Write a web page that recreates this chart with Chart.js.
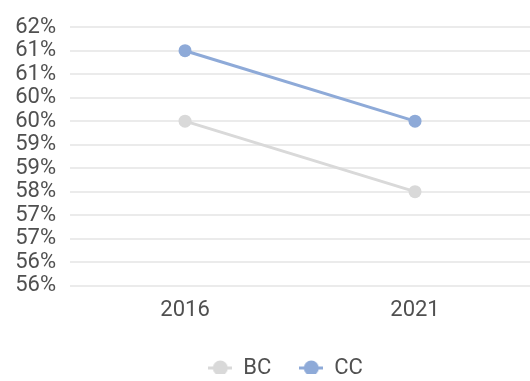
<!DOCTYPE html>
<html>
<head>
<meta charset="utf-8">
<script src="https://cdn.jsdelivr.net/npm/chart.js@4/dist/chart.umd.min.js"></script>
<style>
html,body{margin:0;padding:0;background:#fff;}
#wrap{width:530px;height:381px;position:relative;}
</style>
</head>
<body>
<div id="wrap"><canvas id="c" width="530" height="381"></canvas></div>
<script>
const categories = ['2016', '2021'];
const seriesNames = ['BC', 'CC'];
const bcValues = [59.65, 58.0];
const ccValues = [61.3, 59.65];
const yTickValues = [55.8, 56.35, 56.9, 57.45, 58.0, 58.55, 59.1, 59.65, 60.2, 60.75, 61.3, 61.85];

const seriesColors = ['#d9d9d9', '#8eaad8'];
const textColor = '#505050';
const fontFamily = 'Roboto, "Noto Sans", sans-serif';

function legendMarker(color) {
  const c = document.createElement('canvas');
  c.width = 24; c.height = 16;
  const g = c.getContext('2d');
  g.strokeStyle = color; g.lineWidth = 3;
  g.beginPath(); g.moveTo(0, 8); g.lineTo(24, 8); g.stroke();
  g.fillStyle = color;
  g.beginPath(); g.arc(12, 8, 7.5, 0, Math.PI * 2); g.fill();
  return c;
}

const legendFit = {
  id: 'legendFit',
  beforeInit(chart) {
    const orig = chart.legend.fit;
    chart.legend.fit = function () { orig.call(this); this.height = 45; };
  },
  afterLayout(chart) {
    chart.legend.left += 20;
    chart.legend.right += 20;
    chart.legend.top -= 7;
    chart.legend.bottom -= 7;
  }
};

new Chart(document.getElementById('c'), {
  type: 'line',
  data: {
    labels: categories,
    datasets: [
      { label: seriesNames[0], data: bcValues, borderColor: seriesColors[0], backgroundColor: seriesColors[0], borderWidth: 3, pointRadius: 6.5, pointHoverRadius: 6.5, pointBorderWidth: 0, tension: 0 },
      { label: seriesNames[1], data: ccValues, borderColor: seriesColors[1], backgroundColor: seriesColors[1], borderWidth: 3, pointRadius: 6.5, pointHoverRadius: 6.5, pointBorderWidth: 0, tension: 0 }
    ]
  },
  plugins: [legendFit],
  options: {
    responsive: false,
    animation: false,
    layout: { autoPadding: false, padding: { top: -11.5, right: 0, left: 1.2, bottom: 0 } },
    plugins: {
      legend: {
        position: 'bottom',
        labels: {
          usePointStyle: true,
          boxWidth: 24,
          boxHeight: 16,
          pointStyleWidth: 24,
          padding: 28,
          color: textColor,
          font: { family: fontFamily, size: 22 },
          generateLabels: (chart) => chart.data.datasets.map((ds, i) => ({
            text: ds.label,
            fillStyle: seriesColors[i],
            strokeStyle: seriesColors[i],
            lineWidth: 0,
            pointStyle: legendMarker(seriesColors[i]),
            hidden: false,
            datasetIndex: i,
            fontColor: textColor
          }))
        }
      },
      tooltip: { enabled: false }
    },
    scales: {
      x: {
        offset: true,
        grid: { display: false, drawTicks: false },
        border: { display: false },
        ticks: { color: textColor, padding: 12, font: { family: fontFamily, size: 22 } }
      },
      y: {
        min: yTickValues[0],
        max: yTickValues[yTickValues.length - 1],
        afterBuildTicks: (scale) => { scale.ticks = yTickValues.map(v => ({ value: v })); },
        grid: { color: '#ebebeb', lineWidth: 2, drawTicks: false },
        border: { display: false },
        ticks: {
          autoSkip: false,
          color: textColor,
          padding: 14,
          font: { family: fontFamily, size: 22 },
          callback: (v) => Math.round(v) + '%'
        }
      }
    }
  }
});
</script>
</body>
</html>
